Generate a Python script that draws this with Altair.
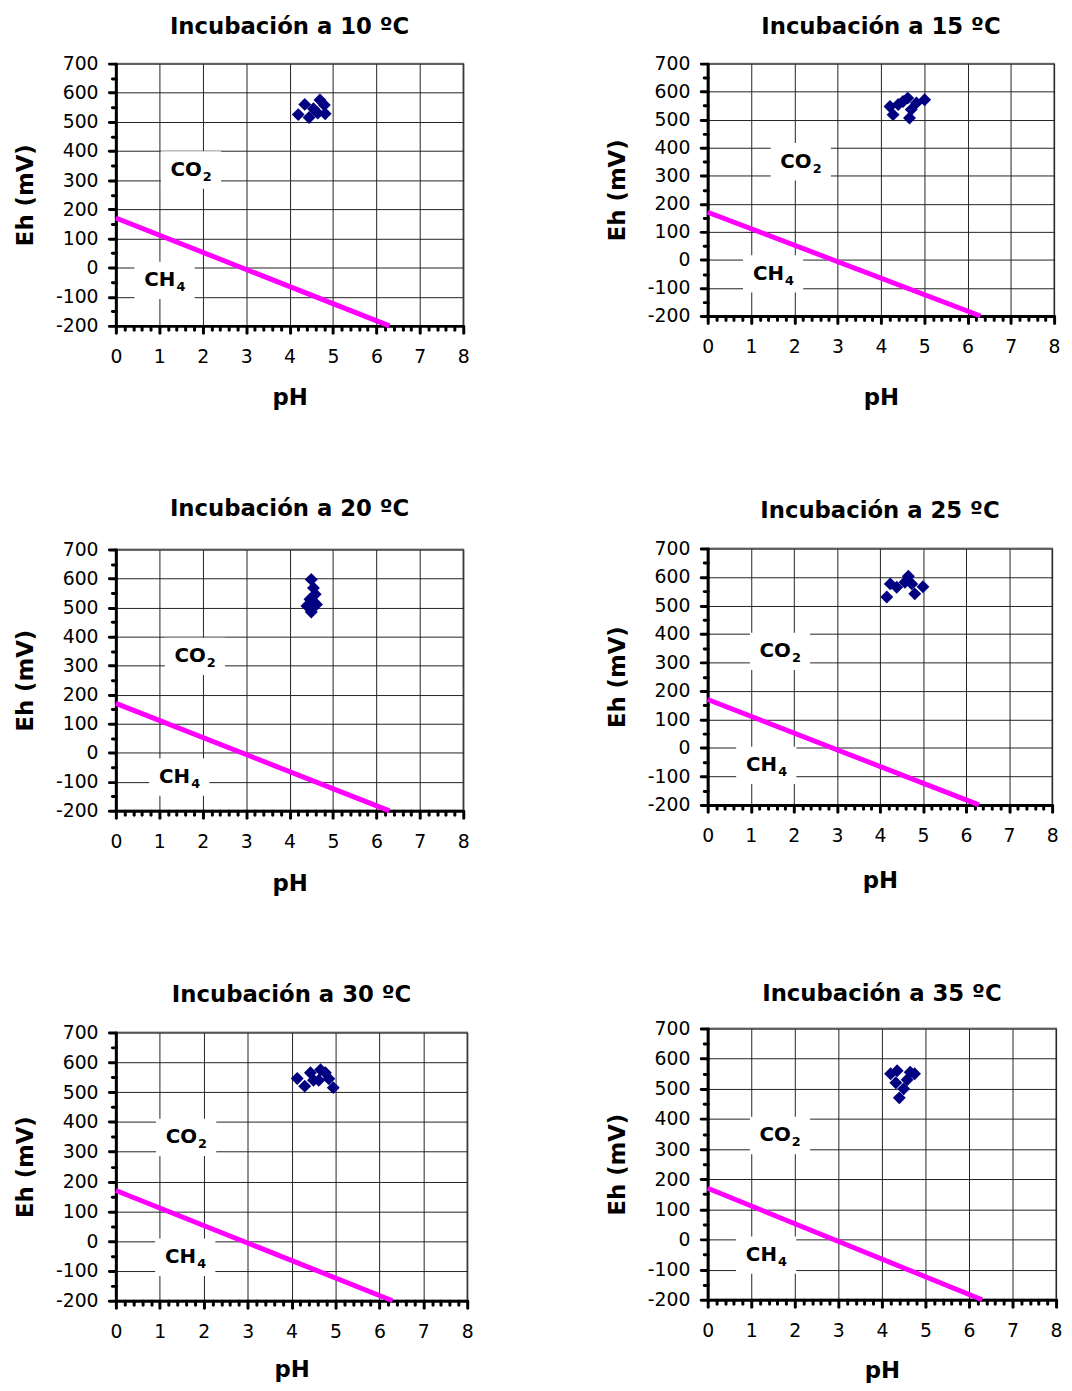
import altair as alt
import pandas as pd

FONT = "DejaVu Sans"

temps = [10, 15, 20, 25, 30, 35]

# Measured points (pH, Eh mV) per incubation temperature
ph_10 = [4.20, 4.35, 4.45, 4.55, 4.65, 4.70, 4.80, 4.82]
eh_10 = [525, 560, 515, 545, 530, 575, 558, 528]
ph_15 = [4.21, 4.28, 4.40, 4.51, 4.62, 4.66, 4.70, 4.82, 5.01]
eh_15 = [547, 518, 554, 565, 577, 506, 536, 560, 571]
ph_20 = [4.50, 4.55, 4.59, 4.47, 4.40, 4.50, 4.62, 4.55]
eh_20 = [597, 568, 546, 529, 506, 485, 511, 520]
ph_25 = [4.16, 4.24, 4.39, 4.58, 4.66, 4.74, 4.81, 5.00]
eh_25 = [530, 576, 564, 582, 603, 576, 541, 566]
ph_30 = [4.13, 4.30, 4.43, 4.50, 4.66, 4.62, 4.77, 4.85, 4.95]
eh_30 = [546, 520, 565, 540, 575, 540, 565, 545, 515]
ph_35 = [4.20, 4.35, 4.32, 4.40, 4.50, 4.58, 4.65, 4.75]
eh_35 = [550, 560, 520, 470, 500, 530, 555, 550]

# CO2 / CH4 boundary line
line_ph = [0.0, 6.3]
line_eh = [170, -200]

# Region label positions (pH, Eh)
co2_ph = [1.73, 2.15, 1.82, 1.68, 1.60, 1.66]
co2_eh = [335, 350, 332, 339, 348, 345]
ch4_ph = [1.12, 1.51, 1.46, 1.36, 1.58, 1.34]
ch4_eh = [-44, -50, -84, -61, -54, -52]

x_ticks = [round(i * 0.2, 1) for i in range(41)]
y_ticks = list(range(-200, 701, 50))

ph_sets = [ph_10, ph_15, ph_20, ph_25, ph_30, ph_35]
eh_sets = [eh_10, eh_15, eh_20, eh_25, eh_30, eh_35]

# panel sizes (plot area), title offsets and x-title paddings
widths = [351, 350, 351, 348, 355, 352]
heights = [265, 255, 264, 259, 271, 274]
title_off = [16, 16, 20, 17, 17, 14]
xtitle_pad = [20, 30, 21, 24, 18, 20]

MAJ_X = "abs(datum.value - round(datum.value)) < 0.01"
MAJ_Y = "abs(datum.value % 100) < 0.01"


def panel(i):
    xaxis = alt.Axis(
        values=x_ticks,
        labelExpr=f"({MAJ_X}) ? toString(round(datum.value)) : ''",
        tickSize={"condition": {"test": MAJ_X, "value": 7}, "value": 4},
        gridOpacity={"condition": {"test": MAJ_X, "value": 1}, "value": 0},
        labelOverlap=False, labelFlush=False, labelBound=False,
        labelPadding=15, titlePadding=xtitle_pad[i], title="pH",
    )
    yaxis = alt.Axis(
        values=y_ticks,
        labelExpr=f"({MAJ_Y}) ? toString(datum.value) : ''",
        tickSize={"condition": {"test": MAJ_Y, "value": 7}, "value": 4},
        gridOpacity={"condition": {"test": MAJ_Y, "value": 1}, "value": 0},
        labelOverlap=False, labelBound=False,
        labelPadding=11, titlePadding=18, title="Eh (mV)",
    )
    x = alt.X("pH:Q", scale=alt.Scale(domain=[0, 8], nice=False, zero=False), axis=xaxis)
    y = alt.Y("Eh:Q", scale=alt.Scale(domain=[-200, 700], nice=False, zero=False), axis=yaxis)
    pts = pd.DataFrame({"pH": ph_sets[i], "Eh": eh_sets[i]})
    ln = pd.DataFrame({"pH": line_ph, "Eh": line_eh})
    lab = pd.DataFrame({
        "pH": [co2_ph[i], ch4_ph[i]],
        "Eh": [co2_eh[i], ch4_eh[i]],
        "main": ["CO", "CH"],
        "sub": ["2", "4"],
    })
    line = alt.Chart(ln).mark_line(color="#FF00FF", strokeWidth=5, strokeCap="butt").encode(x=x, y=y)
    box = alt.Chart(lab).mark_point(
        shape="M-1,-0.62L1,-0.62L1,0.62L-1,0.62Z", filled=True, color="white",
        opacity=1, size=3700, strokeWidth=0,
    ).encode(x=x, y=y)
    main = alt.Chart(lab).mark_text(
        font=FONT, fontSize=20, fontWeight="bold", align="right", baseline="middle",
        dx=11, color="black",
    ).encode(x=x, y=y, text="main:N")
    sub = alt.Chart(lab).mark_text(
        font=FONT, fontSize=13, fontWeight="bold", align="left", baseline="middle",
        dx=12, dy=7, color="black",
    ).encode(x=x, y=y, text="sub:N")
    points = alt.Chart(pts).mark_point(
        shape="diamond", filled=True, color="#000080", opacity=1, size=170,
    ).encode(x=x, y=y)
    return alt.layer(line, box, main, sub, points).properties(
        width=widths[i], height=heights[i],
        title=alt.Title(f"Incubación a {temps[i]} ºC", offset=title_off[i]),
    )


left_col = alt.vconcat(panel(0), panel(2), panel(4), spacing=88)
right_col = alt.vconcat(panel(1), panel(3), panel(5), spacing=90)
chart = alt.hconcat(left_col, right_col, spacing=131).properties(
    padding={"left": 5, "top": 0, "right": 0, "bottom": 0}
).configure(font=FONT).configure_axis(
    labelFont=FONT, labelFontSize=19, labelColor="black",
    titleFont=FONT, titleFontSize=23, titleFontWeight="bold", titleColor="black",
    domainColor="black", domainWidth=3,
    gridColor="#222222", gridWidth=1,
    tickColor="black", tickWidth=3, tickCap="round",
).configure_title(
    font=FONT, fontSize=23, fontWeight="bold", color="black", anchor="middle",
).configure_view(stroke="#888888", strokeWidth=2)

chart.save("out.html", embed_options={"renderer": "svg", "actions": False})
